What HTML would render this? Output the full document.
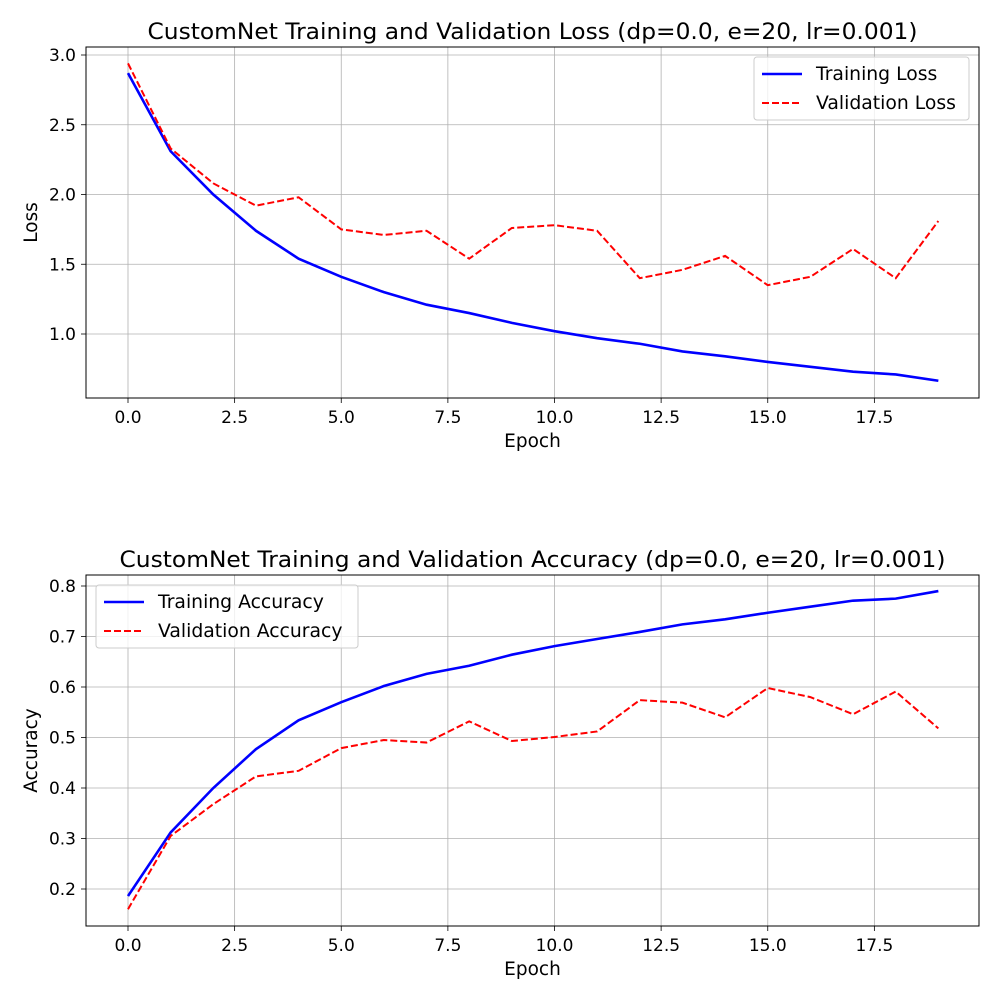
<!DOCTYPE html>
<html><head><meta charset="utf-8"><style>
body{margin:0;background:#fff;}
svg{font-family:"DejaVu Sans","Liberation Sans",sans-serif;}
</style></head><body>
<svg id="c" width="1000" height="1000" xmlns="http://www.w3.org/2000/svg"></svg>
<script>
const epochs=[0,1,2,3,4,5,6,7,8,9,10,11,12,13,14,15,16,17,18,19];
const trainLoss=[2.87,2.31,2.00,1.74,1.54,1.41,1.30,1.21,1.15,1.08,1.02,0.97,0.93,0.875,0.84,0.80,0.765,0.73,0.71,0.665];
const valLoss=[2.94,2.33,2.08,1.92,1.98,1.75,1.71,1.74,1.54,1.76,1.78,1.74,1.40,1.46,1.56,1.35,1.41,1.61,1.40,1.81];
const trainAcc=[0.186,0.312,0.40,0.477,0.534,0.570,0.602,0.626,0.642,0.664,0.681,0.695,0.709,0.724,0.734,0.747,0.759,0.771,0.775,0.790];
const valAcc=[0.160,0.305,0.368,0.423,0.434,0.479,0.495,0.490,0.532,0.493,0.501,0.512,0.574,0.569,0.540,0.598,0.580,0.546,0.591,0.518];
const xTicks=[0,2.5,5,7.5,10,12.5,15,17.5];
const lossTicks=[1.0,1.5,2.0,2.5,3.0];
const accTicks=[0.2,0.3,0.4,0.5,0.6,0.7,0.8];
const NS="http://www.w3.org/2000/svg";
const svg=document.getElementById('c');
function mk(t,a,p){const e=document.createElementNS(NS,t);for(const k in a)e.setAttribute(k,a[k]);(p||svg).appendChild(e);return e;}
function panel(o){
  const L=86,R=979,T=o.top,B=o.bottom;
  const x=v=>128+v*42.65;
  const y=v=>o.y0px+(v-o.y0)*(o.y1px-o.y0px)/(o.y1-o.y0);
  const g=mk('g',{});
  
  
  xTicks.forEach(t=>{
    const l=mk('line',{x1:x(t),x2:x(t),y1:T,y2:B,stroke:'#b0b0b0','stroke-width':0.8},g);
    
    mk('line',{x1:x(t),x2:x(t),y1:B,y2:B+5,stroke:'#000','stroke-width':0.8},g);
    const tx=mk('text',{x:x(t),y:B+25,'font-size':17,'text-anchor':'middle'},g);
    tx.textContent=t.toFixed(1);
    
  });
  o.ticks.forEach(t=>{
    const l=mk('line',{x1:L,x2:R,y1:y(t),y2:y(t),stroke:'#b0b0b0','stroke-width':0.8},g);
    
    mk('line',{x1:L-5,x2:L,y1:y(t),y2:y(t),stroke:'#000','stroke-width':0.8},g);
    const tx=mk('text',{x:L-10,y:y(t)+6,'font-size':17,'text-anchor':'end'},g);
    tx.textContent=t.toFixed(1);
    
  });
  const s1=mk('polyline',{points:epochs.map((e,i)=>x(e)+','+y(o.s1[i])).join(' '),fill:'none',stroke:'#0000ff','stroke-width':2.6},g);
  
  const s2=mk('polyline',{points:epochs.map((e,i)=>x(e)+','+y(o.s2[i])).join(' '),fill:'none',stroke:'#ff0000','stroke-width':2,'stroke-dasharray':'7,3'},g);
  
  const fr=mk('rect',{x:L,y:T,width:R-L,height:B-T,fill:'none',stroke:'#000','stroke-width':1},g);
  
  const ti=mk('text',{x:(L+R)/2,y:T-8,'font-size':22,'text-anchor':'middle',textLength:o.tw,lengthAdjust:'spacingAndGlyphs'},g);
  ti.textContent=o.title;
  const xl=mk('text',{x:(L+R)/2,y:B+49,'font-size':18.5,'text-anchor':'middle'},g);
  xl.textContent='Epoch';
  const yl=mk('text',{x:0,y:0,'font-size':18.5,'text-anchor':'middle',transform:`translate(37,${(T+B)/2}) rotate(-90)`},g);
  yl.textContent=o.ylabel;
  const lg=mk('g',{},g);
  mk('rect',{x:o.lx,y:o.ly,width:o.lw,height:63,rx:3,fill:'#fff','fill-opacity':0.8,stroke:'#ccc'},lg);
  mk('line',{x1:o.lx+8,x2:o.lx+48,y1:o.ly+17,y2:o.ly+17,stroke:'#0000ff','stroke-width':2.6},lg);
  mk('line',{x1:o.lx+8,x2:o.lx+48,y1:o.ly+46,y2:o.ly+46,stroke:'#ff0000','stroke-width':2,'stroke-dasharray':'7,3'},lg);
  const a=mk('text',{x:o.lx+62,y:o.ly+23,'font-size':18.8},lg);a.textContent=o.l1;
  
  const b=mk('text',{x:o.lx+62,y:o.ly+52,'font-size':18.8},lg);b.textContent=o.l2;
  
}
panel({name:'loss-panel',top:47,bottom:398,y0:1.0,y0px:334,y1:3.0,y1px:55,ticks:lossTicks,s1:trainLoss,s2:valLoss,n1:'training-loss-line',n2:'validation-loss-line',title:'CustomNet Training and Validation Loss (dp=0.0, e=20, lr=0.001)',tw:770,ylabel:'Loss',lx:754,ly:57,lw:215,l1:'Training Loss',l2:'Validation Loss'});
panel({name:'accuracy-panel',top:575,bottom:926,y0:0.2,y0px:889,y1:0.8,y1px:586,ticks:accTicks,s1:trainAcc,s2:valAcc,n1:'training-accuracy-line',n2:'validation-accuracy-line',title:'CustomNet Training and Validation Accuracy (dp=0.0, e=20, lr=0.001)',tw:826,ylabel:'Accuracy',lx:96,ly:585,lw:262,l1:'Training Accuracy',l2:'Validation Accuracy'});
</script>
</body></html>
